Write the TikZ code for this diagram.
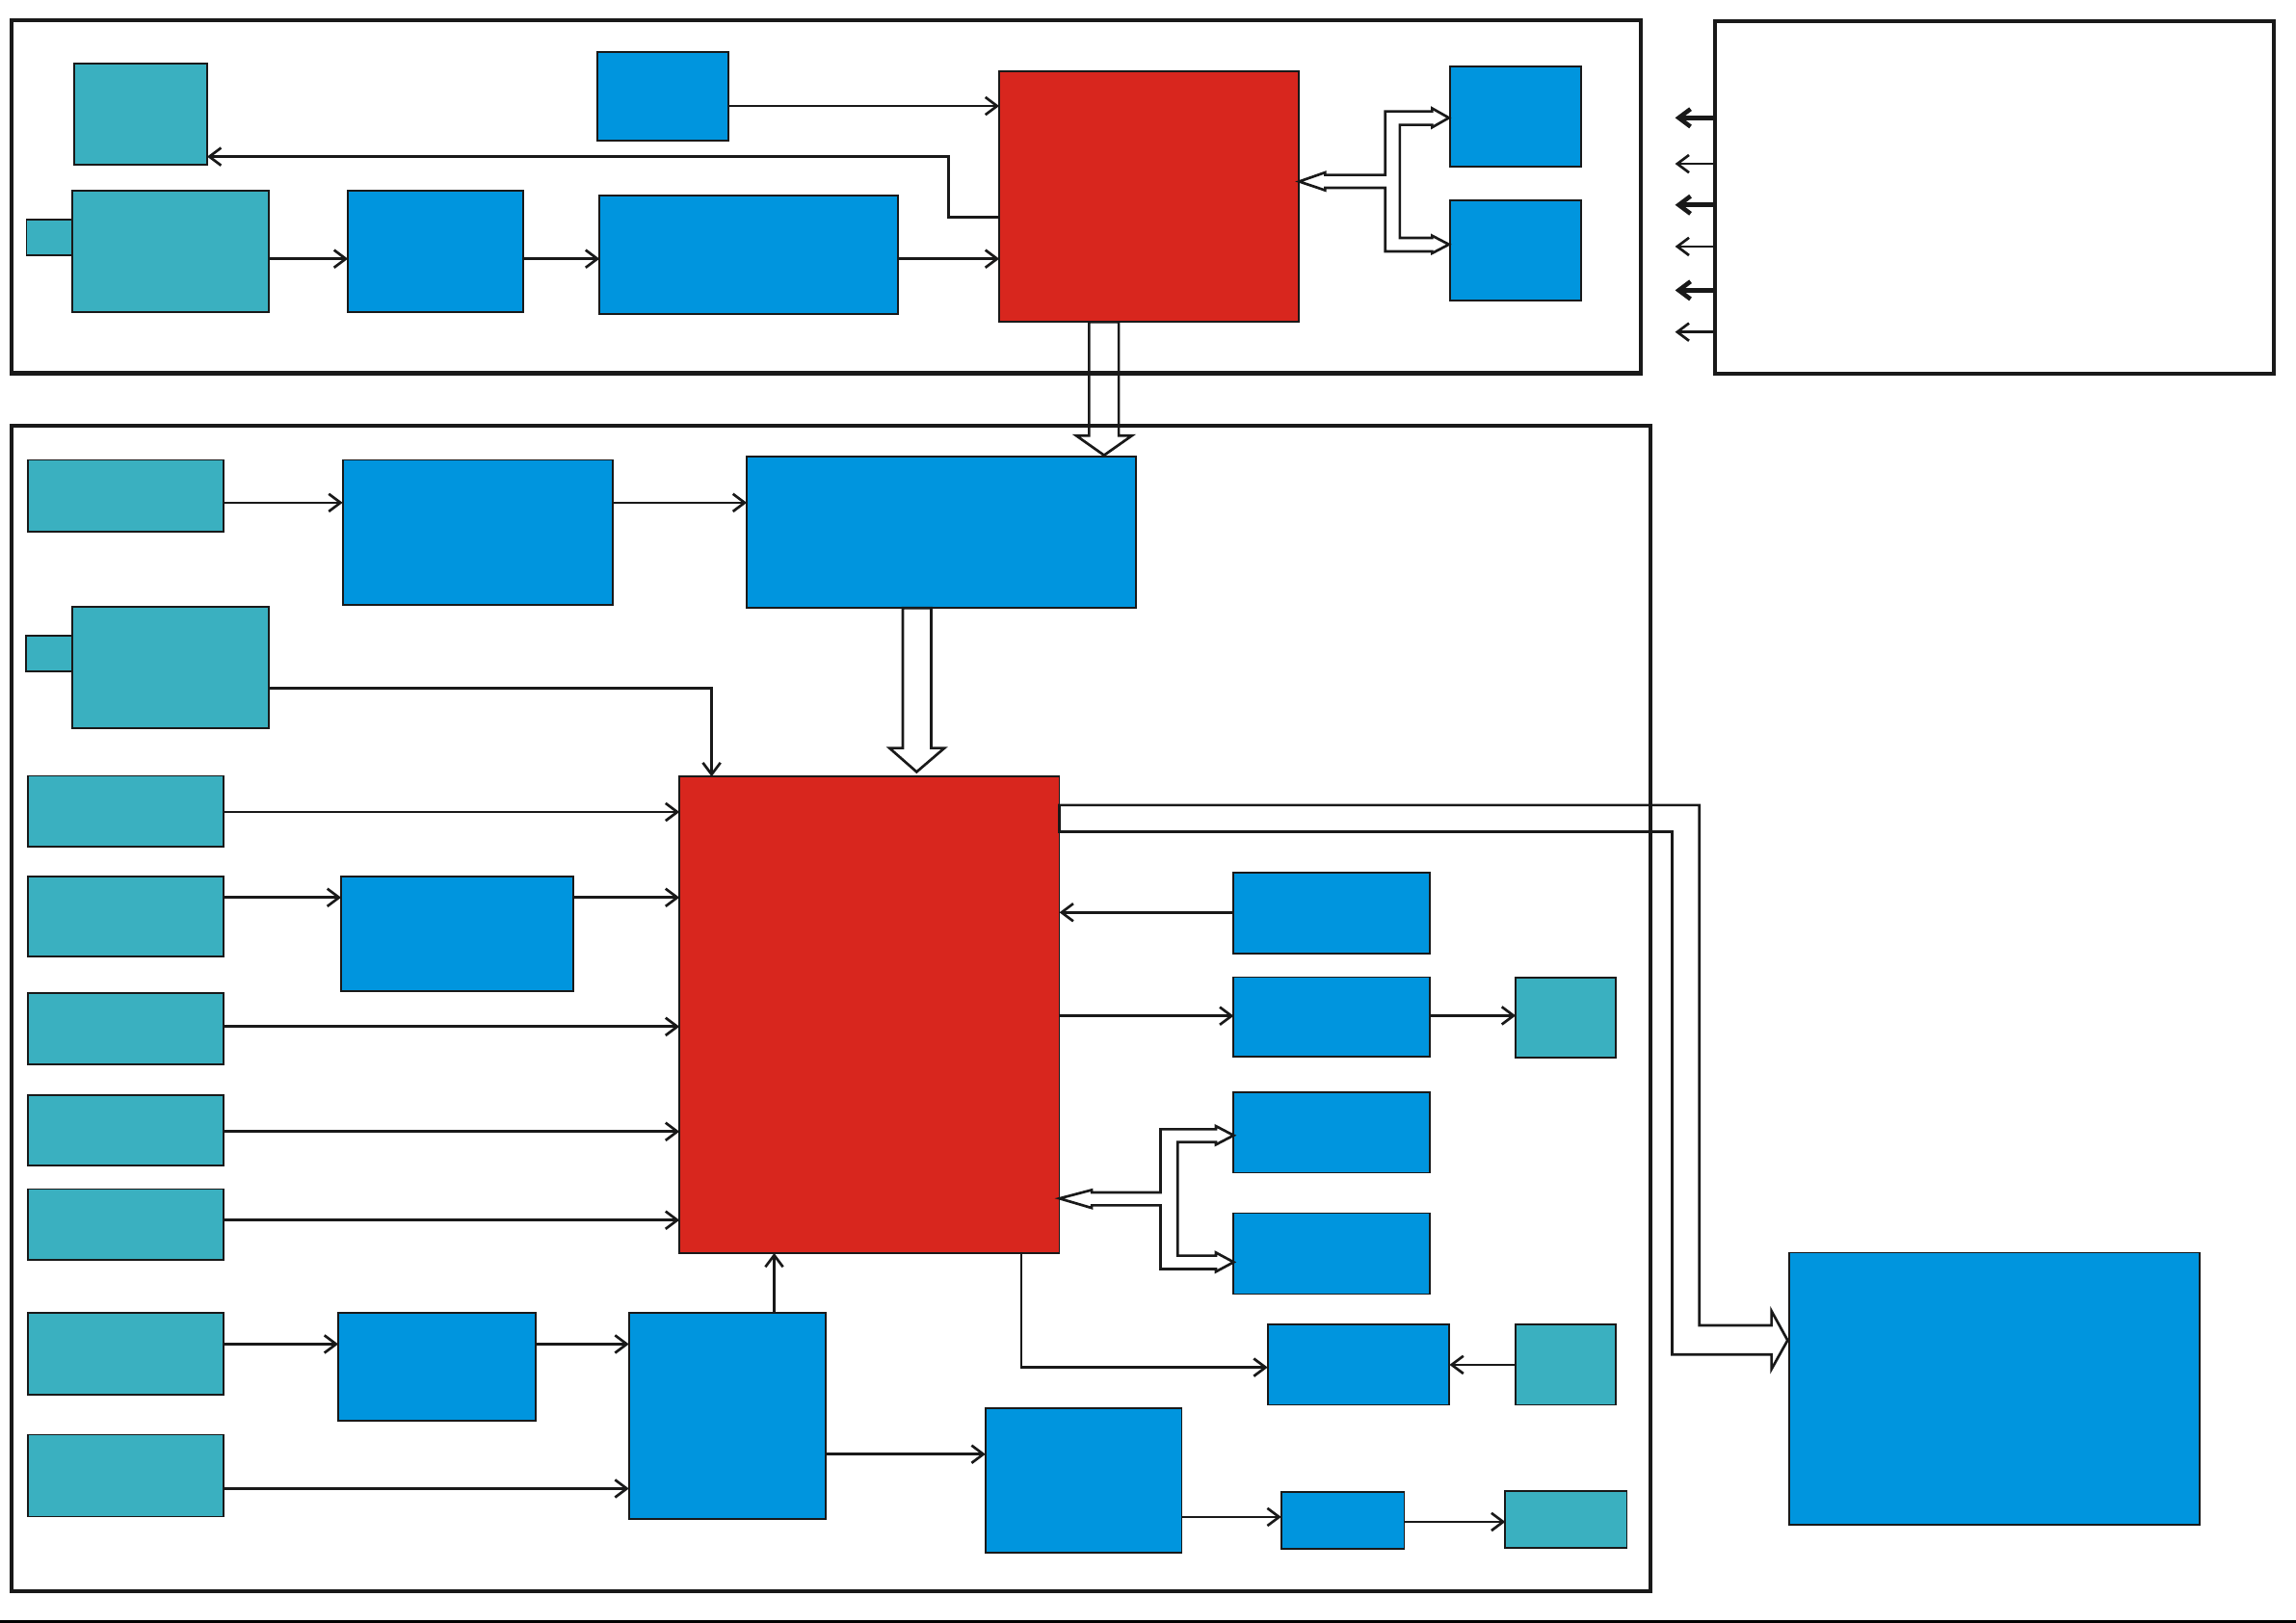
\documentclass[tikz,border=0pt]{standalone}
\usepackage{tikz}
\usetikzlibrary{arrows.meta}

\definecolor{cteal}{RGB}{58,176,192}
\definecolor{cblue}{RGB}{0,149,222}
\definecolor{cred}{RGB}{216,38,30}

\tikzset{
	box/.style={draw=black!90, line width=0.35pt, inner sep=0pt, outer sep=0pt, anchor=north west},
	tl/.style={box, fill=cteal},
	bl/.style={box, fill=cblue},
	rd/.style={box, fill=cred},
	frm/.style={box, line width=0.8pt},
	ar/.style={-{Straight Barb[length=0.8mm,width=1.2mm]}, line width=0.5pt, draw=black!90},
	arb/.style={ar, line width=0.85pt},
	hol/.style={line width=0.5pt, draw=black!90, line join=miter}
}
\newcommand{\blok}[6]{\node[#1, minimum width={(#5-#3)*0.1mm}, minimum height={(#6-#4)*0.1mm}] (#2) at (#3,#4) {};}

\begin{document}
\begin{tikzpicture}[x=0.1mm, y=-0.1mm]
	\useasboundingbox (0,0) rectangle (1568,1108.7);

	\blok{frm}{ftop}{8}{14}{1120.5}{255}
	\blok{frm}{rf}{1171}{14.7}{1552.8}{255.3}
	\blok{frm}{fbot}{8}{291}{1127}{1087}
	\draw[line width=0.5pt] (0,1107.9) -- (1568,1107.9);

	\blok{tl}{ta}{50.9}{43.6}{141.5}{112.3}
	\blok{bl}{tb}{408}{35.7}{497.4}{96.3}
	\blok{rd}{tcpu}{682.4}{48.9}{887.2}{220}
	\blok{tl}{ttab}{18.1}{150.2}{49.3}{174.6}
	\blok{tl}{tcam}{49.3}{130.5}{183.3}{213.4}
	\blok{bl}{tc}{237.6}{130.5}{357.5}{213.4}
	\blok{bl}{td}{409.4}{133.8}{613.3}{214.7}
	\blok{bl}{te}{990.5}{45.6}{1079.9}{114}
	\blok{bl}{tf}{990.5}{137.1}{1079.9}{205.5}

	\draw[ar] (tb.east |- 0,72.4) -- (tcpu.west |- 0,72.4);
	\draw[ar] (tcpu.west |- 0,148.5) -- (647.6,148.5) -- (647.6,107) -- (ta.east |- 0,107);
	\draw[ar] (tcam.east |- 0,176.8) -- (tc.west |- 0,176.8);
	\draw[ar] (tc.east |- 0,176.8) -- (td.west |- 0,176.8);
	\draw[ar] (td.east |- 0,176.8) -- (tcpu.west |- 0,176.8);

	\draw[hol] (887.2,124) -- (905,117.8) -- (905,119.5) -- (946,119.5) -- (946,76.1) -- (978,76.1) -- (978,74) -- (989.5,80.5) -- (978,87) -- (978,85.3) -- (956,85.3) -- (956,162.5) -- (978,162.5) -- (978,161) -- (989.5,167) -- (978,173) -- (978,171.7) -- (946,171.7) -- (946,128.3) -- (905,128.3) -- (905,130) -- cycle;
	\draw[hol] (743.8,220) -- (743.8,297.6) -- (735,297.6) -- (754,311) -- (773,297.6) -- (764,297.6) -- (764,220) -- cycle;

	\foreach \y/\s [count=\i] in {80.5/arb,111.9/ar,140/arb,168.4/ar,198.3/arb,226.8/ar} {
		\coordinate (out\i) at (1144,\y);
		\draw[\s] (rf.west |- out\i) -- (out\i);
	}

	\blok{tl}{la}{19}{314.2}{152.6}{363}
	\blok{bl}{lb}{234}{314.2}{418.3}{413.4}
	\blok{bl}{lc}{510}{312}{776}{415.4}
	\blok{tl}{ltab}{18}{434.5}{49.4}{458.7}
	\blok{tl}{lcam}{49.4}{414.7}{183.3}{497.5}
	\blok{rd}{lcpu}{464}{530.5}{723.5}{856}
	\blok{tl}{ld}{19}{530}{152.6}{578.6}
	\blok{tl}{le}{19}{599}{152.6}{653.6}
	\blok{bl}{lf}{233}{599}{391.7}{677.3}
	\blok{tl}{lg}{19}{678.5}{152.6}{727.1}
	\blok{tl}{lh}{19}{747.9}{152.6}{796.4}
	\blok{tl}{li}{19}{812.3}{152.6}{860.8}
	\blok{tl}{lj}{19}{897}{152.6}{952.8}
	\blok{bl}{lk}{231}{897}{365.6}{970.7}
	\blok{bl}{ll}{429.5}{897}{564}{1037.8}
	\blok{tl}{lm}{19}{980.1}{152.6}{1036}
	\blok{bl}{ln}{673}{962.2}{807}{1060.9}
	\blok{bl}{lo}{875}{1019.4}{959}{1058.3}
	\blok{tl}{lp}{1028}{1018.8}{1111}{1057.2}
	\blok{bl}{ma}{842.5}{596.3}{976.5}{651.6}
	\blok{bl}{mb}{842.5}{667.5}{976.5}{722}
	\blok{tl}{mbt}{1035.1}{668}{1103.6}{722.3}
	\blok{bl}{mc}{842.5}{745.9}{976.5}{801.1}
	\blok{bl}{md}{842.5}{828.7}{976.5}{884}
	\blok{bl}{me}{865.7}{904.5}{989.9}{959.7}
	\blok{tl}{met}{1035.1}{904.5}{1103.6}{959.7}
	\blok{bl}{big}{1222}{855.7}{1502.2}{1041.8}

	\draw[ar] (la.east |- 0,343.4) -- (lb.west |- 0,343.4);
	\draw[ar] (lb.east |- 0,343.4) -- (lc.west |- 0,343.4);
	\draw[ar] (lcam.east |- 0,470.3) -- (486,470.3) -- (lcpu.north -| 486,0);
	\draw[ar] (ld.east |- 0,554.7) -- (lcpu.west |- 0,554.7);
	\draw[ar] (le.east |- 0,613.1) -- (lf.west |- 0,613.1);
	\draw[ar] (lf.east |- 0,613.1) -- (lcpu.west |- 0,613.1);
	\draw[ar] (lg.east |- 0,701.3) -- (lcpu.west |- 0,701.3);
	\draw[ar] (lh.east |- 0,773) -- (lcpu.west |- 0,773);
	\draw[ar] (li.east |- 0,833.5) -- (lcpu.west |- 0,833.5);
	\draw[ar] (lj.east |- 0,918.2) -- (lk.west |- 0,918.2);
	\draw[ar] (lk.east |- 0,918.2) -- (ll.west |- 0,918.2);
	\draw[ar] (ll.north -| 528.7,0) -- (lcpu.south -| 528.7,0);
	\draw[ar] (lm.east |- 0,1016.9) -- (ll.west |- 0,1016.9);
	\draw[ar] (ll.east |- 0,993.4) -- (ln.west |- 0,993.4);
	\draw[ar] (ln.east |- 0,1036.3) -- (lo.west |- 0,1036.3);
	\draw[ar] (lo.east |- 0,1039.6) -- (lp.west |- 0,1039.6);
	\draw[ar] (ma.west |- 0,623.3) -- (lcpu.east |- 0,623.3);
	\draw[ar] (lcpu.east |- 0,694) -- (mb.west |- 0,694);
	\draw[ar] (mb.east |- 0,693.8) -- (mbt.west |- 0,693.8);
	\draw[ar] (met.west |- 0,932.3) -- (me.east |- 0,932.3);
	\draw[ar] (lcpu.south -| 697.5,0) |- (me.west |- 0,934.1);

	\draw[hol] (616.5,415.4) -- (616.5,511) -- (607.4,511) -- (626,527.3) -- (645,511) -- (636,511) -- (636,415.4) -- cycle;
	\draw[hol] (723.5,818.7) -- (745.6,812.9) -- (745.6,814.6) -- (792.6,814.6) -- (792.6,771.4) -- (830.4,771.4) -- (830.4,769.3) -- (842.5,775.6) -- (830.4,781.9) -- (830.4,780.2) -- (804.2,780.2) -- (804.2,857.8) -- (830.4,857.8) -- (830.4,855.7) -- (842.5,862.2) -- (830.4,868.7) -- (830.4,866.9) -- (792.6,866.9) -- (792.6,823.4) -- (745.6,823.4) -- (745.6,825.2) -- cycle;
	\draw[hol] (723.5,550) -- (1160.5,550) -- (1160.5,905.4) -- (1209.8,905.4) -- (1209.8,895.6) -- (1220.8,915.6) -- (1209.8,935.3) -- (1209.8,925.3) -- (1141.9,925.3) -- (1141.9,568.2) -- (723.5,568.2) -- cycle;
\end{tikzpicture}
\end{document}
